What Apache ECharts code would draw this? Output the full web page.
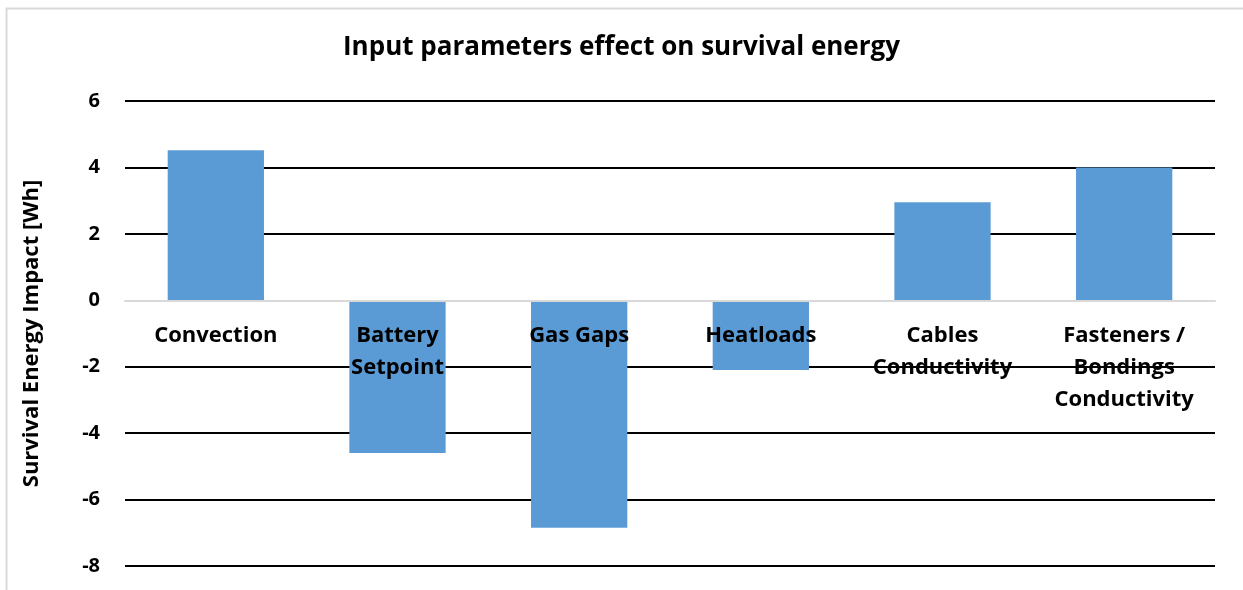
<!DOCTYPE html>
<html>
<head>
<meta charset="utf-8">
<script src="https://cdn.jsdelivr.net/npm/echarts@6/dist/echarts.min.js"></script>
<style>
  html, body { margin: 0; padding: 0; background: #fff; }
  #chart { width: 1243px; height: 590px; }
</style>
</head>
<body>
<div id="chart"></div>
<script>
// data
const categories = ['Convection', 'Battery\nSetpoint', 'Gas Gaps', 'Heatloads', 'Cables\nConductivity', 'Fasteners /\nBondings\nConductivity']
const impact = [4.52, -4.6, -6.85, -2.1, 2.95, 4.0]
const yTicks = { min: -8, max: 6, step: 2 }

const font = '"Open Sans", sans-serif'
const gridBox = { left: 125, right: 28, top: 101, bottom: 24 }
const gridH = 590 - gridBox.top - gridBox.bottom
// the category axis sits on the zero line, labels included
const zeroOffset = gridH * (0 - yTicks.min) / (yTicks.max - yTicks.min)

const chart = echarts.init(document.getElementById('chart'))
chart.setOption({
  backgroundColor: '#fff',
  animation: false,
  graphic: [{
    type: 'rect',
    shape: { x: 6.5, y: 8.5, width: 1260, height: 600 },
    style: { fill: 'none', stroke: '#D9D9D9', lineWidth: 2 },
    silent: true
  }],
  title: {
    text: 'Input parameters effect on survival energy',
    left: 'center',
    top: 30,
    textStyle: { fontFamily: font, fontWeight: 'bold', fontSize: 26, color: '#000' }
  },
  grid: Object.assign({ containLabel: false, outerBoundsMode: 'none' }, gridBox),
  xAxis: {
    type: 'category',
    data: categories,
    position: 'bottom',
    offset: -zeroOffset,
    z: 10,
    axisLine: { onZero: false, lineStyle: { color: '#D9D9D9', width: 2 } },
    axisTick: { show: false },
    axisLabel: {
      margin: 19,
      interval: 0,
      fontFamily: font, fontWeight: 'bold', fontSize: 22, color: '#000',
      lineHeight: 32
    }
  },
  yAxis: {
    type: 'value',
    min: yTicks.min, max: yTicks.max, interval: yTicks.step,
    name: 'Survival Energy Impact [Wh]',
    nameLocation: 'middle',
    nameGap: 82,
    nameTextStyle: { fontFamily: font, fontWeight: 'bold', fontSize: 22, color: '#000' },
    axisLine: { show: false },
    axisTick: { show: false },
    axisLabel: { margin: 25, fontFamily: font, fontWeight: 'bold', fontSize: 20, color: '#000' },
    splitLine: { lineStyle: { color: '#000', width: 2 } }
  },
  series: [{
    type: 'bar',
    data: impact,
    barWidth: '53%',
    itemStyle: { color: '#5B9BD5' }
  }]
})
</script>
</body>
</html>
